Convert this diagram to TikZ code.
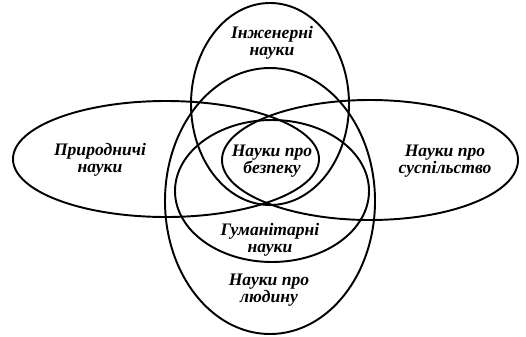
\documentclass[tikz,border=0pt]{standalone}
\usepackage{fontspec}
\setmainfont{Liberation Serif}
\tikzset{
  oval/.style={line width=1.1pt},
  areatext/.style={align=center, inner sep=0pt,
    font=\fontsize{10}{9.6}\selectfont\bfseries\itshape}
}
\begin{document}
\begin{tikzpicture}[line cap=round, line join=round]
  \useasboundingbox (0,0) rectangle (10.52,6.72);
  % Centres of the ovals
  \coordinate (E) at (5.40,4.64);
  \coordinate (L) at (5.40,2.70);
  \coordinate (P) at (3.32,3.54);
  \coordinate (S) at (7.40,3.52);
  \coordinate (G) at (5.44,2.90);

  % Vertical ovals (top and bottom)
  \draw[oval] (E) ellipse [x radius=1.58, y radius=2.02];
  \draw[oval] (L) ellipse [x radius=2.10, y radius=2.66];

  % Horizontal ovals (left and right), their overlap is the centre
  \draw[oval] (P) ellipse [x radius=3.06, y radius=1.16];
  \draw[oval] (S) ellipse [x radius=2.96, y radius=1.20];

  % Oval round the middle
  \draw[oval] (G) ellipse [x radius=1.94, y radius=1.42];

  % Names of the fields
  \node[areatext] (eng)   at (5.44,5.86) {Інженерні\\науки};
  \node[areatext] (nat)   at (2.00,3.52) {Природничі\\науки};
  \node[areatext] (soc)   at (8.90,3.50) {Науки про\\суспільство};
  \node[areatext] (safe)  at (5.44,3.50) {Науки про\\безпеку};
  \node[areatext] (hum)   at (5.40,1.92) {Гуманітарні\\науки};
  \node[areatext] (human) at (5.38,0.92) {Науки про\\людину};
\end{tikzpicture}
\end{document}
